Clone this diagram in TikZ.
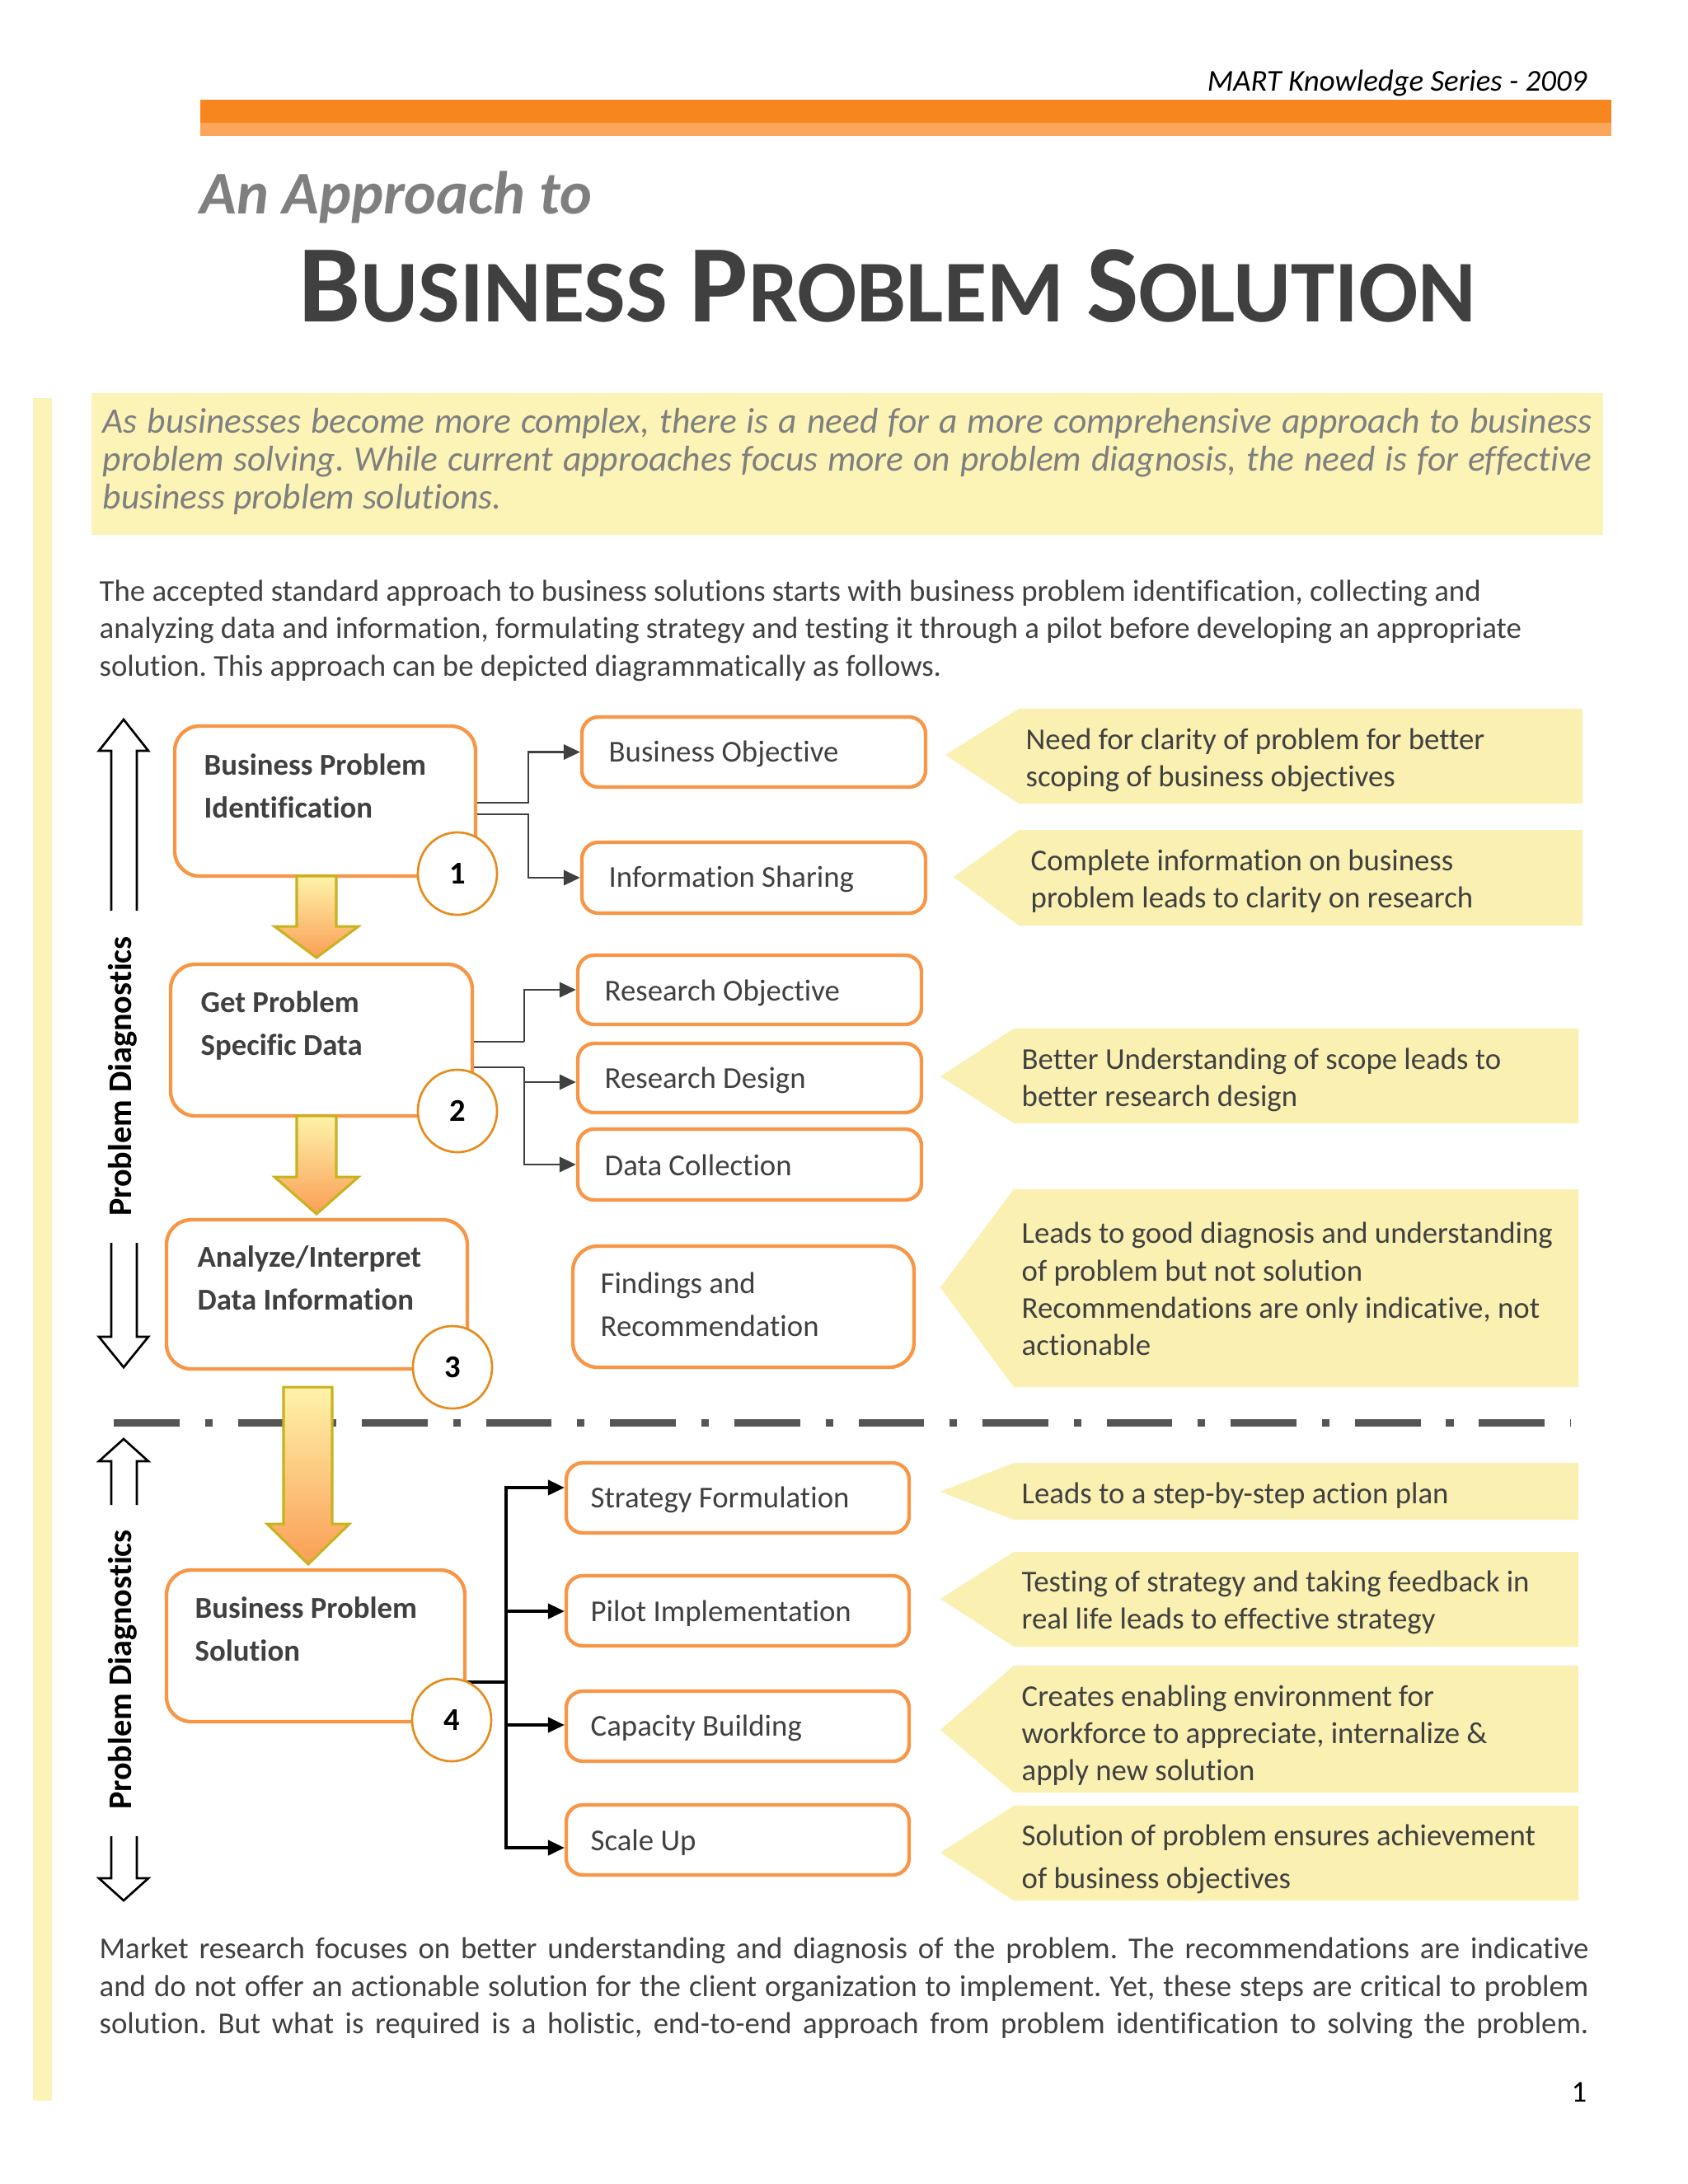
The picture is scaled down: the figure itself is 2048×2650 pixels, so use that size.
\documentclass[tikz,border=0pt]{standalone}
\usepackage{fontspec}
\setmainfont{Carlito}[Ligatures=NoCommon]
\usetikzlibrary{arrows.meta,fit,shapes.geometric}
\definecolor{bar1}{RGB}{247,134,31}
\definecolor{bar2}{RGB}{251,166,90}
\definecolor{pale}{RGB}{252,243,183}
\definecolor{callY}{RGB}{250,240,178}
\definecolor{boxO}{RGB}{247,150,70}
\definecolor{circO}{RGB}{228,140,28}
\definecolor{txt}{RGB}{64,64,64}
\definecolor{grayT}{RGB}{127,127,127}
\definecolor{connG}{RGB}{64,64,64}
\definecolor{arrTop}{RGB}{255,243,170}
\definecolor{arrBot}{RGB}{250,158,85}
\definecolor{arrLine}{RGB}{200,178,30}
\definecolor{dashG}{RGB}{85,85,85}
\newcommand\bigsc[2]{{\fontsize{40}{44}\selectfont #1}{\fontsize{32}{36}\selectfont #2}}
\frenchspacing
\begin{document}
\begin{tikzpicture}[x=0.29883pt,y=-0.29883pt,
  bigbox/.style={draw=boxO, line width=1.3pt, rounded corners=9pt, fill=white, inner sep=0pt},
  smallbox/.style={draw=boxO, line width=1.3pt, rounded corners=6pt, fill=white, inner sep=0pt},
  numc/.style={ellipse, draw=circO, fill=white, line width=0.8pt, minimum width=28.7pt, minimum height=29.9pt, inner sep=0pt, font=\bfseries\fontsize{11.5}{13}\selectfont},
  boldtxt/.style={anchor=base west, inner sep=0pt, align=left, text=txt, font=\bfseries\fontsize{11}{15.3}\selectfont},
  boxtxt/.style={anchor=base west, inner sep=0pt, align=left, text=txt, font=\fontsize{11}{15.5}\selectfont},
  calltxt/.style={anchor=base west, inner sep=0pt, align=left, text=txt, font=\fontsize{11}{13.45}\selectfont},
  para/.style={anchor=base west, inner sep=0pt, text=txt, font=\fontsize{11}{13.4}\selectfont},
  quote/.style={anchor=base west, inner sep=0pt, text=grayT, font=\itshape\fontsize{13}{14}\selectfont},
  conn/.style={draw=connG, line width=0.8pt, -{Triangle[length=6pt,width=5.5pt]}},
  connk/.style={draw=black, line width=1pt, -{Triangle[length=6pt,width=5.5pt]}},
  blockarrow/.style={draw=arrLine, line width=0.9pt, top color=arrTop, bottom color=arrBot},
  hollow/.style={draw=black, line width=0.8pt, fill=white, line join=miter},
  callout/.style={fill=callY}
]
\useasboundingbox (0,0) rectangle (2048,2650);
\fill[white] (0,0) rectangle (2048,2650);

% header
\node[anchor=base east, inner sep=0pt, font=\itshape\fontsize{11}{13}\selectfont] (hdr) at (1926,110) {MART Knowledge Series - 2009};
\fill[bar1] (243,121) rectangle (1955,149);
\fill[bar2] (243,149) rectangle (1955,165);

% titles
\node[anchor=base west, inner sep=0pt, text=grayT, font=\bfseries\itshape\fontsize{22}{26}\selectfont] (t1) at (242,259) {An Approach to};
\node[anchor=base west, inner sep=0pt, text=txt, font=\bfseries\fontsize{36}{40}\selectfont] (t2) at (362,390) {\bigsc{B}{USINESS} \bigsc{P}{ROBLEM} \bigsc{S}{OLUTION}};

% left pale bar
\fill[pale] (40,483) rectangle (63,2549);

% quote box
\fill[pale] (111,477) rectangle (1945,649);
\node[quote] (q1) at (124,525) {\makebox[540pt][s]{As businesses become more complex, there is a need for a more comprehensive approach to business}};
\node[quote] (q2) at (124,571) {\makebox[540pt][s]{problem solving. While current approaches focus more on problem diagnosis, the need is for effective}};
\node[quote] (q3) at (124,617) {business problem solutions.};

% intro paragraph
\node[para] (p1) at (120,729) {The accepted standard approach to business solutions starts with business problem identification, collecting and};
\node[para] (p2) at (120,774) {analyzing data and information, formulating strategy and testing it through a pilot before developing an appropriate};
\node[para] (p3) at (120,820) {solution. This approach can be depicted diagrammatically as follows.};

% hollow side arrows
\draw[hollow] (135,1105) -- (135,911) -- (120,911) -- (150,873) -- (180,911) -- (166,911) -- (166,1105);
\draw[hollow] (135,1508) -- (135,1622) -- (120,1622) -- (150,1659) -- (180,1622) -- (166,1622) -- (166,1508);
\draw[hollow] (135,1826) -- (135,1773) -- (120,1773) -- (150,1746) -- (180,1773) -- (166,1773) -- (166,1826);
\draw[hollow] (135,2228) -- (135,2279) -- (120,2279) -- (150,2306) -- (180,2279) -- (166,2279) -- (166,2228);
\node[rotate=90, inner sep=0pt, font=\bfseries\fontsize{12}{14}\selectfont] (pd1) at (149,1306) {Problem Diagnostics};
\node[rotate=90, inner sep=0pt, font=\bfseries\fontsize{12}{14}\selectfont] (pd2) at (149,2026) {Problem Diagnostics};

% callouts
\path[callout] (1147,916) -- (1236,860) -- (1920,860) -- (1920,975) -- (1236,975) -- cycle;
\path[callout] (1157,1064) -- (1236,1007) -- (1920,1007) -- (1920,1123) -- (1236,1123) -- cycle;
\path[callout] (1141,1306) -- (1230,1248) -- (1915,1248) -- (1915,1363) -- (1230,1363) -- cycle;
\path[callout] (1141,1562) -- (1230,1443) -- (1915,1443) -- (1915,1683) -- (1230,1683) -- cycle;
\path[callout] (1141,1810) -- (1230,1775) -- (1915,1775) -- (1915,1844) -- (1230,1844) -- cycle;
\path[callout] (1141,1940) -- (1230,1883) -- (1915,1883) -- (1915,1998) -- (1230,1998) -- cycle;
\path[callout] (1141,2099) -- (1230,2021) -- (1915,2021) -- (1915,2175) -- (1230,2175) -- cycle;
\path[callout] (1141,2248) -- (1230,2191) -- (1915,2191) -- (1915,2306) -- (1230,2306) -- cycle;
\node[calltxt] (c1) at (1244,954) {Need for clarity of problem for better\\scoping of business objectives};
\node[calltxt] (c2) at (1250,1101) {Complete information on business\\problem leads to clarity on research};
\node[calltxt] (c3) at (1239,1342) {Better Understanding of scope leads to\\better research design};
\node[calltxt] (c4) at (1239,1644) {Leads to good diagnosis and understanding\\of problem but not solution\\Recommendations are only indicative, not\\actionable};
\node[calltxt] (c5) at (1239,1824) {Leads to a step-by-step action plan};
\node[calltxt] (c6) at (1239,1976) {Testing of strategy and taking feedback in\\real life leads to effective strategy};
\node[calltxt] (c7) at (1239,2160) {Creates enabling environment for\\workforce to appreciate, internalize \&\\apply new solution};
\node[calltxt, font=\fontsize{11}{15.5}\selectfont] (c8) at (1239,2291) {Solution of problem ensures achievement\\of business objectives};

% main boxes
\node[bigbox, fit={(212,881) (577,1063)}] (b1) {};
\node[bigbox, fit={(207,1170) (573,1354)}] (b2) {};
\node[bigbox, fit={(202,1480) (567,1661)}] (b3) {};
\node[bigbox, fit={(202,1905) (564,2089)}] (b4) {};
\node[boldtxt] (b1t) at (247,992) {Business Problem\\Identification};
\node[boldtxt] (b2t) at (243,1280) {Get Problem\\Specific Data};
\node[boldtxt] (b3t) at (239,1589) {Analyze/Interpret\\Data Information};
\node[boldtxt] (b4t) at (236,2015) {Business Problem\\Solution};

% right boxes
\node[smallbox, fit={(706,870) (1123,955)}] (bo) {};
\node[smallbox, fit={(706,1022) (1123,1108)}] (is) {};
\node[smallbox, fit={(701,1159) (1118,1243)}] (ro) {};
\node[smallbox, fit={(701,1266) (1118,1350)}] (rd) {};
\node[smallbox, fit={(701,1370) (1118,1456)}] (dc) {};
\node[bigbox, fit={(695,1512) (1109,1659)}] (fr) {};
\node[smallbox, fit={(687,1775) (1103,1860)}] (sf) {};
\node[smallbox, fit={(687,1912) (1103,1997)}] (pi) {};
\node[smallbox, fit={(687,2052) (1103,2137)}] (cb) {};
\node[smallbox, fit={(687,2190) (1103,2275)}] (su) {};
\node[boxtxt] (bot) at (738,924) {Business Objective};
\node[boxtxt] (ist) at (738,1076) {Information Sharing};
\node[boxtxt] (rot) at (733,1214) {Research Objective};
\node[boxtxt] (rdt) at (733,1320) {Research Design};
\node[boxtxt] (dct) at (733,1426) {Data Collection};
\node[boxtxt] (frt) at (728,1621) {Findings and\\Recommendation};
\node[boxtxt] (sft) at (716,1829) {Strategy Formulation};
\node[boxtxt] (pit) at (716,1967) {Pilot Implementation};
\node[boxtxt] (cbt) at (716,2106) {Capacity Building};
\node[boxtxt] (sut) at (716,2245) {Scale Up};

% connectors
\draw[conn] (b1.east |- 0,974) -- (641,974) |- (bo.west);
\draw[conn] (b1.east |- 0,988) -- (641,988) |- (is.west);
\draw[connG, line width=0.8pt] (b2.east |- 0,1264) -- (636,1264);
\draw[connG, line width=0.8pt] (b2.east |- 0,1295) -- (636,1295);
\draw[conn] (636,1264) |- (ro.west);
\draw[conn] (636,1295) |- (dc.west);
\draw[conn] (636,1313) -- (rd.west |- 0,1313);
\draw[black, line width=1pt] (b4.east |- 0,2041) -- (614,2041);
\draw[connk] (614,2041) |- (sf.west |- 0,1805);
\draw[connk] (614,2041) |- (su.west |- 0,2242);
\draw[connk] (614,1955) -- (pi.west |- 0,1955);
\draw[connk] (614,2093) -- (cb.west |- 0,2093);

% number circles
\node[numc] (n1) at (555,1060) {1};
\node[numc] (n2) at (555,1348) {2};
\node[numc] (n3) at (549,1659) {3};
\node[numc] (n4) at (548,2087) {4};

% separator
\draw[dashG, line width=2.7pt, dash pattern=on 23.8pt off 9.25pt on 2.7pt off 9.25pt] (138,1726) -- (1906,1726);

% block arrows
\path[blockarrow] (360,1063) -- (408,1063) -- (408,1124) -- (435,1124) -- (384,1162) -- (333,1124) -- (360,1124) -- cycle;
\path[blockarrow] (360,1354) -- (408,1354) -- (408,1428) -- (435,1428) -- (384,1473) -- (333,1428) -- (360,1428) -- cycle;
\path[blockarrow] (344,1683) -- (403,1683) -- (403,1849) -- (424,1849) -- (374,1898) -- (324,1849) -- (344,1849) -- cycle;

% closing paragraph
\node[para] (e1) at (120,2376) {\makebox[540pt][s]{Market research focuses on better understanding and diagnosis of the problem. The recommendations are indicative}};
\node[para] (e2) at (120,2422) {\makebox[540pt][s]{and do not offer an actionable solution for the client organization to implement. Yet, these steps are critical to problem}};
\node[para] (e3) at (120,2467) {\makebox[540pt][s]{solution. But what is required is a holistic, end-to-end approach from problem identification to solving the problem.}};
\node[anchor=base east, inner sep=0pt, font=\fontsize{11}{13}\selectfont] (pg) at (1926,2550) {1};
\end{tikzpicture}
\end{document}
